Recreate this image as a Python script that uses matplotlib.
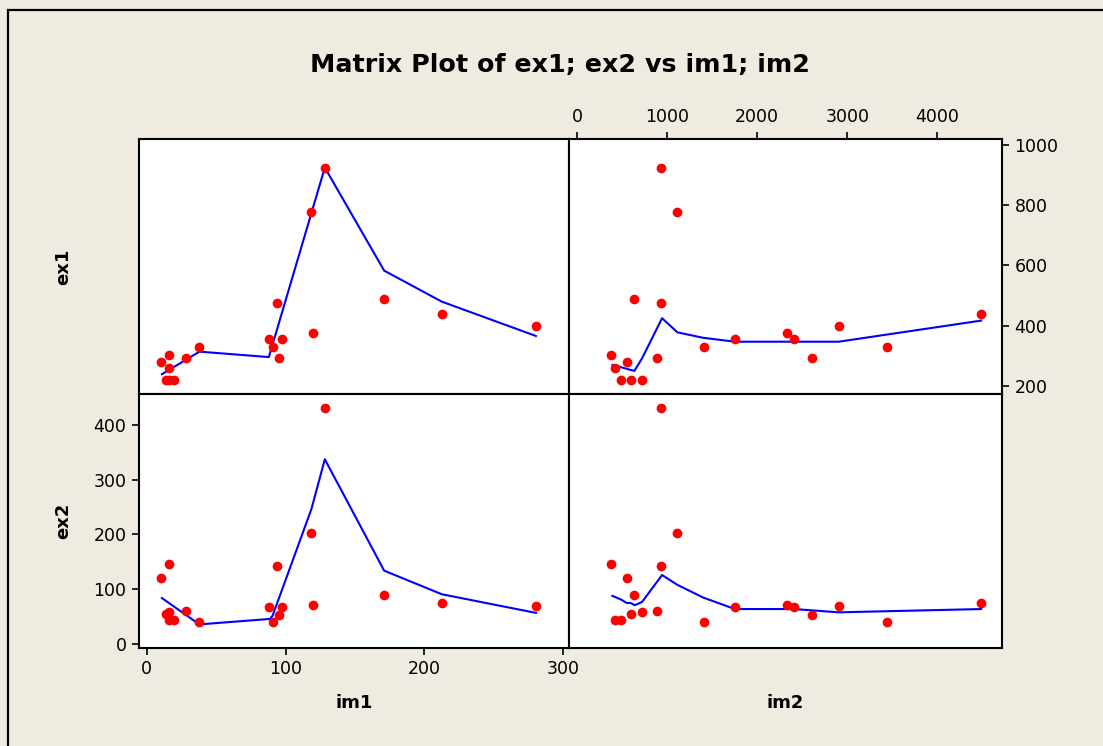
# %% load libraries
# -----------------

import matplotlib.pyplot as plt
from matplotlib.patches import Rectangle


# %% data
# --------------------------

im1 = [16.1, 16.0, 20.0, 10.3, 14.2, 171.0, 16.3, 28.5, 128.3, 93.6,
       118.6, 38.0, 88.0, 120.0, 97.7, 95.0, 280.3, 90.7, 212.5]
im2 = [381, 422, 485, 552, 596, 637, 722, 893, 937, 937,
       1107, 1404, 1752, 2326, 2411, 2604, 2904, 3437, 4485]
ex1 = [304, 260, 221, 279, 221, 490, 221, 292, 925, 477,
       778, 331, 355, 375, 355, 292, 400, 331, 439]
ex2 = [146, 44, 44, 121, 55, 89, 58, 61, 430, 142,
       202, 41, 68, 72, 68, 54, 69, 41, 75]

# smoother lines (vertices)
fit_ex1_im1_x = [11, 38.0, 88.0, 128.3, 171.0, 212.5, 280.3]
fit_ex1_im1_y = [239, 314, 296, 925, 583, 480, 366]
fit_ex2_im1_x = [11, 38.0, 88.8, 90.7, 118.6, 128.3, 171.0, 212.5, 280.3]
fit_ex2_im1_y = [84, 36, 46, 52, 246, 337, 134, 91, 57]
fit_ex1_im2_x = [393, 637, 722, 944, 1115, 1400, 1752, 2904, 4485]
fit_ex1_im2_y = [270, 250, 292, 425, 378, 360, 347, 347, 417]
fit_ex2_im2_x = [393, 493, 552, 596, 641, 722, 944, 1115, 1400, 1752,
                 2411, 2904, 4485]
fit_ex2_im2_y = [88, 81, 75, 75, 71, 77, 126, 108, 85, 64, 64, 58, 64]

im1_ticks = [0, 100, 200, 300]
im2_ticks = [0, 1000, 2000, 3000, 4000]
ex1_ticks = [200, 400, 600, 800, 1000]
ex2_ticks = [0, 100, 200, 300, 400]


# %% style
# --------

plt.rcParams['font.family'] = ['DejaVu Sans']
bg = '#EFEBE1'


# %% figure
# ---------

W, H = 1103, 746
fig = plt.figure(figsize=(W / 100, H / 100), dpi=100, facecolor=bg)


def box(x0, y0, x1, y1):
    return [x0 / W, 1 - y1 / H, (x1 - x0) / W, (y1 - y0) / H]


ax_tl = fig.add_axes(box(139, 139, 569, 394))
ax_tr = fig.add_axes(box(569, 139, 1002, 394))
ax_bl = fig.add_axes(box(139, 394, 569, 648))
ax_br = fig.add_axes(box(569, 394, 1002, 648))

panels = [
    (ax_tl, im1, ex1, fit_ex1_im1_x, fit_ex1_im1_y),
    (ax_tr, im2, ex1, fit_ex1_im2_x, fit_ex1_im2_y),
    (ax_bl, im1, ex2, fit_ex2_im1_x, fit_ex2_im1_y),
    (ax_br, im2, ex2, fit_ex2_im2_x, fit_ex2_im2_y),
]

for ax, x, y, fx, fy in panels:
    ax.set_facecolor('white')
    ax.plot(fx, fy, color='#0000FF', lw=1.5, zorder=2)
    ax.plot(x, y, 'o', color='#FF0000', ms=7, mec='none', zorder=3)
    for s in ax.spines.values():
        s.set_linewidth(1.5)
        s.set_color('black')
    ax.tick_params(length=5, width=1.2, labelsize=12.5, color='black',
                   direction='out', pad=4)
    ax.set_xticks([])
    ax.set_yticks([])

# limits
for ax in (ax_tl, ax_bl):
    ax.set_xlim(-5.5, 304.1)
for ax in (ax_tr, ax_br):
    ax.set_xlim(-89, 4717)
for ax in (ax_tl, ax_tr):
    ax.set_ylim(173.4, 1019.9)
for ax in (ax_bl, ax_br):
    ax.set_ylim(-7, 456)

# ticks on the outer sides only
ax_bl.set_xticks(im1_ticks)
ax_bl.set_yticks(ex2_ticks)
ax_tr.set_xticks(im2_ticks)
ax_tr.xaxis.tick_top()
ax_tr.set_yticks(ex1_ticks)
ax_tr.yaxis.tick_right()

# variable labels
lab = dict(fontsize=13, fontweight='bold')
fig.text(63 / W, 1 - 266.5 / H, 'ex1', rotation=90, ha='center', va='center', **lab)
fig.text(63 / W, 1 - 521 / H, 'ex2', rotation=90, ha='center', va='center', **lab)
fig.text(354 / W, 1 - 703 / H, 'im1', ha='center', va='center', **lab)
fig.text(785 / W, 1 - 703 / H, 'im2', ha='center', va='center', **lab)

# title
fig.text(560 / W, 1 - 65 / H, 'Matrix Plot of ex1; ex2 vs im1; im2',
         ha='center', va='center', fontsize=18.3, fontweight='bold')

# outer frame
fig.patches.append(Rectangle((8 / W, -0.05), 1.2, 1 - 10 / H + 0.05,
                             transform=fig.transFigure, fill=False,
                             edgecolor='black', lw=1.6))

# save plot
plt.savefig('out.png', dpi=100, facecolor=bg)
